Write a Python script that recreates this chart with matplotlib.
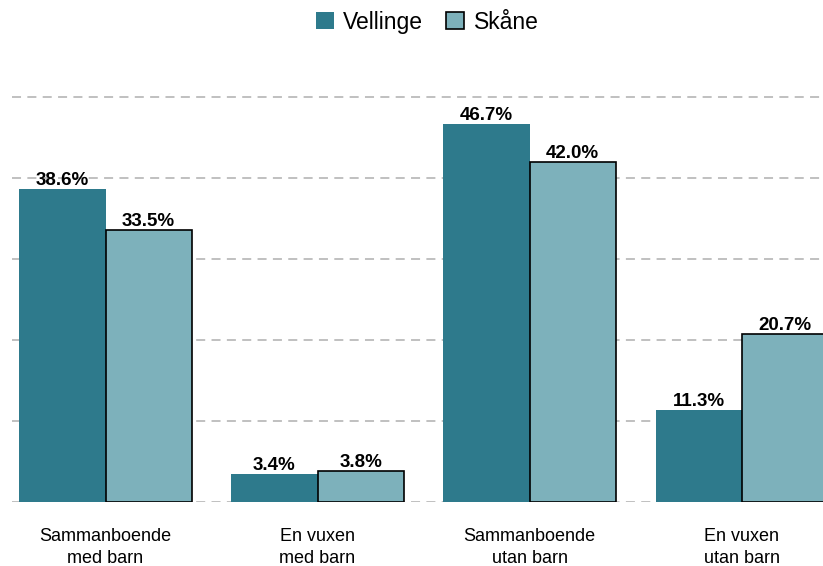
import numpy as np
import matplotlib.pyplot as plt

# Data
categories = ['Sammanboende\nmed barn', 'En vuxen\nmed barn', 'Sammanboende\nutan barn', 'En vuxen\nutan barn']
vellinge = [38.6, 3.4, 46.7, 11.3]
skane = [33.5, 3.8, 42.0, 20.7]
series_names = ['Vellinge', 'Skåne']

plt.rcParams['font.family'] = ['Liberation Sans', 'DejaVu Sans']

fig = plt.figure(figsize=(8.23, 5.66), dpi=100)
ax = fig.add_axes([0.0146, 0.1131, 0.9854, 0.7632])

x = np.arange(len(categories))
width = 0.406

b1 = ax.bar(x - width / 2, vellinge, width, color='#2E7A8C', edgecolor='none',
            label=series_names[0], zorder=3)
b2 = ax.bar(x + width / 2, skane, width, color='#7DB1BB', edgecolor='black',
            linewidth=1.2, label=series_names[1], zorder=3)

for bars in (b1, b2):
    for bar in bars:
        h = bar.get_height()
        ax.annotate(f'{h:.1f}%', (bar.get_x() + bar.get_width() / 2, h),
                    xytext=(0, 0), textcoords='offset points',
                    ha='center', va='bottom', fontsize=13.5, fontweight='bold', zorder=4)

# dashed grid lines
for yv in range(0, 60, 10):
    ax.axhline(yv, color='#BBBBBB', linestyle=(0, (5, 3.5)), linewidth=1.3, zorder=1)

ax.set_xlim(-0.441, 3.384)
ax.set_ylim(0, 53.3)
ax.set_xticks(x)
ax.set_xticklabels(categories, fontsize=13, linespacing=1.35)
ax.tick_params(axis='x', length=0, pad=19)
ax.set_yticks([])
for s in ax.spines.values():
    s.set_visible(False)

fig.legend(handles=[b1, b2], labels=series_names, loc='center', bbox_to_anchor=(0.519, 0.961),
           ncol=2, frameon=False, fontsize=16.5, handlelength=0.8, handleheight=0.8,
           handletextpad=0.4, columnspacing=1.0)

fig.savefig('out.png', dpi=100)
